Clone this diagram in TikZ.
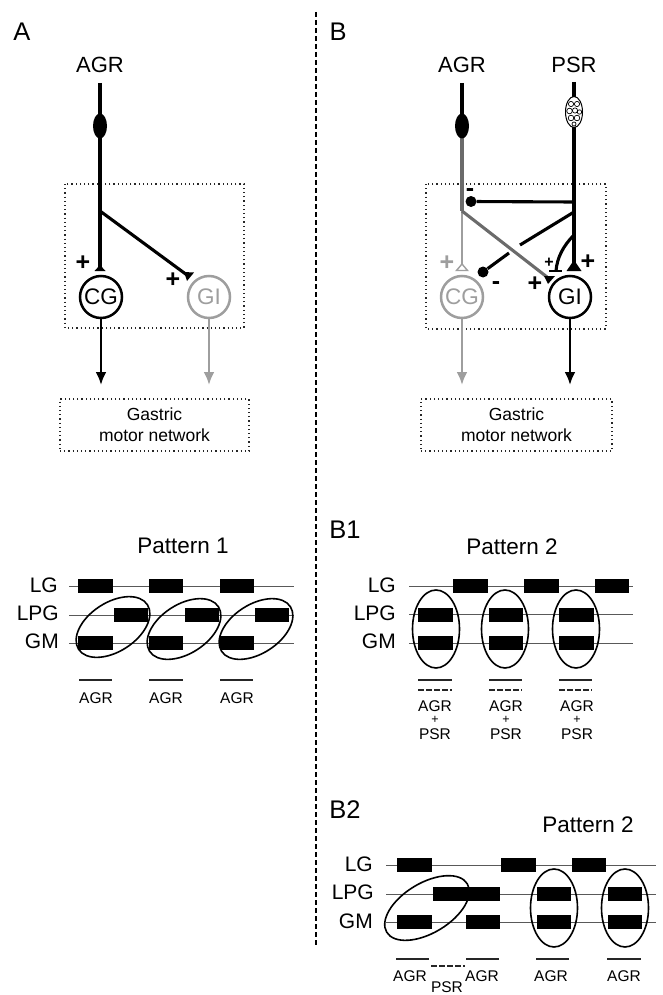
\documentclass[tikz,border=0pt]{standalone}
\usepackage{fontspec}
\setmainfont{Liberation Sans}
\usetikzlibrary{arrows.meta,calc}
\definecolor{lightn}{gray}{0.62}
\definecolor{midn}{gray}{0.42}
\definecolor{trace}{gray}{0.35}
\tikzset{
  lab/.style={inner sep=0pt,font=\fontsize{22}{24}\selectfont},
  panel/.style={inner sep=0pt,font=\fontsize{25.5}{27}\selectfont},
  titlet/.style={inner sep=0pt,font=\fontsize{22.5}{24}\selectfont},
  chan/.style={inner sep=0pt,anchor=east,font=\fontsize{21}{24}\selectfont},
  smalll/.style={inner sep=0pt,font=\fontsize{15.5}{17}\selectfont},
  tinyplus/.style={inner sep=0pt,font=\fontsize{12.5}{13}\selectfont},
  neuron/.style={circle,draw,line width=2.5pt,minimum size=42pt,inner sep=0pt,fill=white,font=\fontsize{22.5}{24}\selectfont},
  axon/.style={line width=3.1pt},
  outarrow/.style={line width=2.8pt,-{Latex[length=13pt,width=11pt]}},
  dotbox/.style={draw=black!85,line width=1.2pt,dash pattern=on 1.2pt off 3pt},
  motor/.style={dotbox,inner sep=0pt,align=center,font=\fontsize{17.5}{21}\selectfont},
  tracel/.style={draw=trace,line width=1pt},
  ring/.style={draw,line width=1.6pt},
  epoch/.style={line width=1.8pt,draw=black!85},
  epochd/.style={epoch,dash pattern=on 5.5pt off 2.5pt},
  sign/.style={inner sep=0pt,font=\bfseries\fontsize{25}{25}\selectfont},
  sgn/.style={inner sep=0pt,font=\bfseries\fontsize{16}{16}\selectfont},
  bdot/.style={circle,fill=black,inner sep=0pt,minimum size=11pt}
}
\newcommand{\burst}[3]{\fill (#1,#3-7) rectangle (#2,#3+7);}
\begin{document}
\begin{tikzpicture}[x=1pt,y=-1pt]
\useasboundingbox (0,0) rectangle (663,995);
% divider
\draw[line width=1.3pt,dash pattern=on 5pt off 3pt] (316,12) -- (316,945);
\node[panel] (pA) at (22,32) {A};
\node[panel] (pB) at (338,32) {B};
\node[panel] (pB1) at (345,530) {B1};
\node[panel] (pB2) at (345,810) {B2};
%% ---------- Panel A
\draw[dotbox] (65,184) rectangle (244,328);
\node[lab] (agrA) at (100,65) {AGR};
\coordinate (a0) at (100,83);
\coordinate (aT) at (100,271);
\coordinate (aB) at (100,211);
\coordinate (aG) at (187,275);
\draw[axon] (a0) -- (aT);
\draw[axon] (aB) -- (aG);
\fill (100,126) ellipse [x radius=7,y radius=12.5];
\fill (94.5,271) -- (100,265) -- (105.5,271) -- cycle;
\fill (184,272) -- (194,272.5) -- (187,281) -- cycle;
\node[neuron] (cgA) at (101,297) {CG};
\node[neuron,draw=lightn,text=lightn] (giA) at (209,297) {GI};
\node[sign] (p1) at (83,263) {+};
\node[sign] (p2) at (173,280) {+};
\node[motor,minimum width=189pt,minimum height=52pt] (mA) at (154.5,425) {Gastric\\motor network};
\coordinate (mA1) at (101,385);
\coordinate (mA2) at (209,385);
\draw[outarrow] (cgA) -- (mA1);
\draw[outarrow,draw=lightn] (giA) -- (mA2);
%% ---------- Panel B
\draw[dotbox] (426,184) rectangle (606,329);
\node[lab] (agrB) at (462,65) {AGR};
\node[lab] (psrB) at (574,65) {PSR};
\coordinate (b0) at (462,83);
\coordinate (bS) at (462,211);
\coordinate (bT) at (462,271);
\coordinate (bG) at (547,277);
\coordinate (c0) at (574,82);
\coordinate (cT) at (574,268);
\coordinate (cH) at (574,202);
\coordinate (cD) at (574,212);
\coordinate (cC) at (574,235);
\draw[line width=2.8pt,lightn] (bS) -- (bT);
\draw[axon,midn] (462,130) -- (bS);
\draw[axon] (b0) -- (462,130);
\draw[axon,midn] (bS) -- (bG);
\fill[white,draw=lightn,line width=1.4pt] (456.5,270.5) -- (462,264) -- (467.5,270.5) -- cycle;
\fill (462,126) ellipse [x radius=7,y radius=12.5];
\draw[axon] (c0) -- (cT);
\fill (544,276) -- (555,276) -- (548,284) -- cycle;
\fill (566.5,271) -- (572,263) -- (576,263) -- (581.5,271) -- cycle;
\node[bdot] (d1) at (471,201.5) {};
\node[bdot] (d2) at (483,272) {};
\draw[axon] (cH) -- (d1);
\coordinate (gap1) at (520,245);
\coordinate (gap2) at (509,253);
\draw[axon] (cD) -- (gap1);
\draw[axon] (gap2) -- (d2);
\draw[axon] (cC) .. controls (563,246) and (557,258) .. (556,271);
\draw[line width=2.8pt] (549,271) -- (562,271);
% PSR soma
\filldraw[fill=white,draw=black,line width=1pt] (574,112) ellipse [x radius=8.5,y radius=15.5];
\begin{scope}[line width=0.7pt]
\draw (571,104) circle (2.6);
\draw (577,104) circle (2.6);
\draw (569.5,111) circle (2.8);
\draw (575,110.5) circle (2.6);
\draw (579.5,112) circle (2.2);
\draw (571,118) circle (2.8);
\draw (577,118) circle (2.8);
\draw (574,124) circle (2);
\end{scope}
\node[neuron,draw=lightn,text=lightn] (cgB) at (462,297) {CG};
\node[neuron] (giB) at (570,297) {GI};
\node[sign,text=lightn] (p3) at (447,263) {+};
\node[sign] (p4) at (588,262) {+};
\node[sign] (p5) at (535,284) {+};
\node[sgn] (p6) at (549,263) {+};
\node[sign] (m1) at (470,193) {-};
\node[sign] (m2) at (496,286) {-};
\node[motor,minimum width=191pt,minimum height=52pt] (mB) at (516.5,425) {Gastric\\motor network};
\coordinate (mB1) at (462,385);
\coordinate (mB2) at (570,385);
\draw[outarrow,draw=lightn] (cgB) -- (mB1);
\draw[outarrow] (giB) -- (mB2);
%% ---------- Pattern 1
\node[titlet] (t1) at (183,546) {Pattern 1};
\node[chan] (lgA) at (58,585) {LG};
\node[chan] (lpA) at (59,613) {LPG};
\node[chan] (gmA) at (59,641) {GM};
\draw[tracel] (69,586) -- (294,586) (69,615) -- (294,615) (69,643) -- (294,643);
\burst{78}{113}{586}\burst{149}{183}{586}\burst{220}{254}{586}
\burst{114}{148}{615}\burst{185}{219}{615}\burst{255}{289}{615}
\burst{78}{113}{643}\burst{149}{183}{643}\burst{220}{254}{643}
\draw[ring,rotate around={33:(113,627)}] (113,627) ellipse [x radius=41,y radius=24.5];
\draw[ring,rotate around={33:(184,629)}] (184,629) ellipse [x radius=41,y radius=24.5];
\draw[ring,rotate around={33:(256,629)}] (256,629) ellipse [x radius=41,y radius=24.5];
\draw[epoch] (79,680) -- (112,680) (149,680) -- (183,680) (220,680) -- (253,680);
\node[smalll] (s1) at (96,698) {AGR};
\node[smalll] (s2) at (166,698) {AGR};
\node[smalll] (s3) at (237,698) {AGR};
%% ---------- B1
\node[titlet] (t2) at (512,547) {Pattern 2};
\node[chan] (lgB) at (396,585) {LG};
\node[chan] (lpB) at (396,613) {LPG};
\node[chan] (gmB) at (396,641) {GM};
\draw[tracel] (409,586) -- (633,586) (409,614.5) -- (633,614.5) (409,643) -- (633,643);
\burst{453}{488}{586}\burst{524}{559}{586}\burst{595}{629}{586}
\burst{418}{453}{615}\burst{489}{523}{615}\burst{559}{594}{615}
\burst{418}{453}{643}\burst{489}{523}{643}\burst{559}{594}{643}
\draw[ring] (436,629) ellipse [x radius=23.5,y radius=39];
\draw[ring] (505,629) ellipse [x radius=23.5,y radius=39];
\draw[ring] (576,629) ellipse [x radius=23.5,y radius=39];
\draw[epoch] (418,680) -- (452,680) (489,680) -- (522,680) (559,680) -- (592,680);
\draw[epochd] (418,690) -- (452,690);
\draw[epochd] (489,690) -- (522,690);
\draw[epochd] (559,690) -- (592,690);
\foreach \c/\n in {435/a,506/b,577/c}{
  \node[smalll] (u\n1) at (\c,706) {AGR};
  \node[tinyplus] (u\n2) at (\c,720) {+};
  \node[smalll] (u\n3) at (\c,734) {PSR};
}
%% ---------- B2
\node[titlet] (t3) at (588,825) {Pattern 2};
\node[chan] (lgC) at (373,864) {LG};
\node[chan] (lpC) at (374,892) {LPG};
\node[chan] (gmC) at (373,921) {GM};
\draw[tracel] (386,865) -- (656,865) (386,894) -- (656,894) (386,922) -- (656,922);
\burst{397}{432}{865}\burst{501}{536}{865}\burst{572}{606}{865}
\burst{433}{500}{894}\burst{537}{571}{894}\burst{608}{642}{894}
\burst{397}{432}{922}\burst{466}{500}{922}\burst{537}{571}{922}\burst{608}{642}{922}
\draw[ring,rotate around={31:(427,908)}] (427,908) ellipse [x radius=47,y radius=25];
\draw[ring] (554,908) ellipse [x radius=23.5,y radius=39];
\draw[ring] (625,908) ellipse [x radius=23.5,y radius=39];
\draw[epoch] (396,959) -- (429,959) (466,959) -- (499,959) (536,959) -- (569,959) (607,959) -- (641,959);
\draw[epochd] (431,966) -- (465,966);
\node[smalll] (v1) at (410,976) {AGR};
\node[smalll] (v2) at (482,976) {AGR};
\node[smalll] (v3) at (551,976) {AGR};
\node[smalll] (v4) at (624,976) {AGR};
\node[smalll] (v5) at (447,987) {PSR};
\end{tikzpicture}
\end{document}
